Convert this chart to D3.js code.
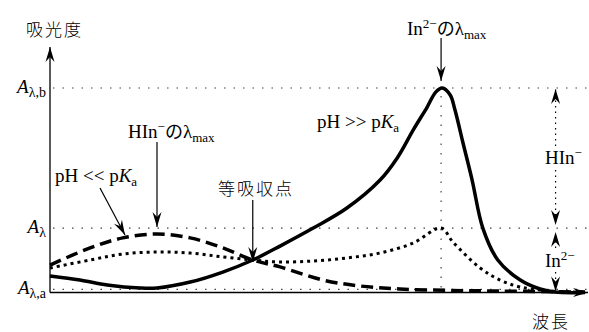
<!DOCTYPE html>
<html>
<head>
<meta charset="utf-8">
<script src="https://cdn.jsdelivr.net/npm/d3@7"></script>
<style>
  body { margin: 0; background: #fff; }
  svg { display: block; }
</style>
</head>
<body>
<svg id="chart" width="589" height="332"></svg>
<script>
// Wavelength in arbitrary units (0–100), absorbance normalised so that A_λ,b = 1.

// pH >> pKa : In2- form
const basicWavelength = [0, 5.6, 10.7, 16.8, 20.0, 26.2, 32.3, 37.9, 43.0, 49.2, 55.5, 61.7, 64.9, 67.9, 70.5, 72.1, 73.3, 74.8, 75.7, 77.2, 78.9, 80.9, 83.7, 87.9, 91.6, 94.4, 100];
const basicAbsorbance = [0.081, 0.061, 0.037, 0.022, 0.022, 0.051, 0.100, 0.159, 0.227, 0.315, 0.413, 0.550, 0.658, 0.795, 0.907, 0.980, 1.0, 0.966, 0.892, 0.731, 0.550, 0.315, 0.159, 0.061, 0.017, 0.002, 0.0];

// pH << pKa : HIn- form
const acidWavelength = [0, 7.5, 13.6, 20.0, 26.2, 32.3, 37.9, 43.0, 51.0, 57.9, 65.4, 74.8, 84.1, 100];
const acidAbsorbance = [0.134, 0.218, 0.267, 0.286, 0.267, 0.218, 0.159, 0.125, 0.061, 0.032, 0.017, 0.010, 0.007, 0.002];

// intermediate pH : mixture of both forms
const mixWavelength = [0, 7.5, 13.6, 20.0, 26.2, 32.3, 37.9, 43.0, 49.2, 55.5, 61.7, 67.9, 73.1, 75.3, 80.4, 84.1, 87.9, 93.5, 100];
const mixAbsorbance = [0.120, 0.159, 0.188, 0.198, 0.193, 0.174, 0.159, 0.149, 0.154, 0.169, 0.193, 0.242, 0.315, 0.247, 0.120, 0.061, 0.027, 0.007, 0.002];

// reference absorbance levels on the vertical axis
const levelSubscripts = ["λ,a", "λ", "λ,b"];
const levelValues = [0.015, 0.315, 1.0];

// marked wavelengths
const inLambdaMax = 73.1;
const hinLambdaMax = 20.0;
const isosbestic = [37.9, 0.159];
const rangeWavelength = 94.5;

const SERIF = "'Liberation Serif', 'Times New Roman', serif";
const JP = "'Noto Sans CJK JP', 'Noto Sans CJK SC', sans-serif";

const svg = d3.select("#chart");
const x = d3.scaleLinear().domain([0, 100]).range([50, 585]);
const y = d3.scaleLinear().domain([0, 1]).range([292.5, 88]);

function serifText(px, py, size) {
  return svg.append("text")
    .attr("x", px).attr("y", py)
    .style("font-family", SERIF)
    .style("font-size", size + "px")
    .attr("fill", "#000");
}
function jpText(px, py, size, str) {
  return svg.append("text")
    .attr("x", px).attr("y", py)
    .style("font-family", JP)
    .style("font-size", size + "px")
    .style("font-weight", 300)
    .attr("letter-spacing", 2)
    .attr("fill", "#000")
    .text(str);
}

// arrowhead (stealth style)
svg.append("defs").append("marker")
  .attr("id", "head")
  .attr("viewBox", "-16 -6 17 12")
  .attr("refX", 0).attr("refY", 0)
  .attr("markerWidth", 17).attr("markerHeight", 12)
  .attr("markerUnits", "userSpaceOnUse")
  .attr("orient", "auto")
  .append("path")
  .attr("d", "M0,0 L-15,-4.5 L-10,0 L-15,4.5 Z")
  .attr("fill", "#000");

// dotted guide lines for the absorbance levels
svg.append("g").selectAll("line").data(levelValues).join("line")
  .attr("x1", x(0) + 3).attr("x2", 588)
  .attr("y1", d => y(d)).attr("y2", d => y(d))
  .attr("stroke", "#444").attr("stroke-width", 1.2)
  .attr("stroke-dasharray", "1.5,8");

// vertical guide at the In2- maximum
svg.append("line")
  .attr("x1", x(inLambdaMax)).attr("x2", x(inLambdaMax))
  .attr("y1", y(1) + 8).attr("y2", y(0))
  .attr("stroke", "#444").attr("stroke-width", 1.2)
  .attr("stroke-dasharray", "1.5,8");

// axes
svg.append("line")
  .attr("x1", x(0)).attr("y1", y(0)).attr("x2", x(0)).attr("y2", 47)
  .attr("stroke", "#000").attr("stroke-width", 1.3)
  .attr("marker-end", "url(#head)");
svg.append("line")
  .attr("x1", x(0)).attr("y1", y(0)).attr("x2", 588).attr("y2", y(0))
  .attr("stroke", "#000").attr("stroke-width", 1.3)
  .attr("marker-end", "url(#head)");

// spectra
const line = d3.line().curve(d3.curveCatmullRom.alpha(0.5))
  .x(d => x(d[0])).y(d => y(d[1]));

svg.append("path")
  .datum(d3.zip(acidWavelength, acidAbsorbance))
  .attr("d", line).attr("fill", "none")
  .attr("stroke", "#000").attr("stroke-width", 3.5)
  .attr("stroke-dasharray", "12,6");
svg.append("path")
  .datum(d3.zip(mixWavelength, mixAbsorbance))
  .attr("d", line).attr("fill", "none")
  .attr("stroke", "#000").attr("stroke-width", 3)
  .attr("stroke-dasharray", "3,4");
svg.append("path")
  .datum(d3.zip(basicWavelength, basicAbsorbance))
  .attr("d", line).attr("fill", "none")
  .attr("stroke", "#000").attr("stroke-width", 3.5);

// level labels A_λ,a / A_λ / A_λ,b
levelValues.forEach((v, i) => {
  const t = serifText(46, y(v) + 5, 19).attr("text-anchor", "end");
  t.append("tspan").style("font-style", "italic").text("A");
  t.append("tspan").style("font-size", "14px").attr("dy", 4).text(levelSubscripts[i]);
});

// axis titles
jpText(26, 36, 17, "吸光度");
jpText(532, 328, 17, "波長");

// plain and dotted arrows
function arrow(x1, y1, x2, y2) {
  svg.append("line")
    .attr("x1", x1).attr("y1", y1).attr("x2", x2).attr("y2", y2)
    .attr("stroke", "#000").attr("stroke-width", 1.2)
    .attr("marker-end", "url(#head)");
}
function dottedArrow(x1, y1, x2, y2) {
  svg.append("line")
    .attr("x1", x1).attr("y1", y1).attr("x2", x2).attr("y2", y2)
    .attr("stroke", "#000").attr("stroke-width", 1.2)
    .attr("stroke-dasharray", "1.5,4")
    .attr("marker-end", "url(#head)");
}

// species label with λmax subscript
function lambdaMaxLabel(px, py, base, sup) {
  const t = serifText(px, py, 19);
  t.append("tspan").text(base);
  t.append("tspan").style("font-size", "13px").attr("dy", -7).text(sup);
  t.append("tspan").style("font-family", JP).style("font-size", "18px").attr("dy", 7).text("の");
  t.append("tspan").text("λ");
  t.append("tspan").style("font-size", "13px").attr("dy", 4).text("max");
}

// In2- λmax
lambdaMaxLabel(407, 35, "In", "2−");
arrow(x(inLambdaMax), 38, x(inLambdaMax), 81);

// HIn- λmax
lambdaMaxLabel(128, 138, "HIn", "−");
arrow(x(hinLambdaMax), 142, x(hinLambdaMax), 227);

// pH labels
function phLabel(px, py, rel) {
  const t = serifText(px, py, 19);
  t.append("tspan").text("pH " + rel + " p");
  t.append("tspan").style("font-style", "italic").text("K");
  t.append("tspan").style("font-size", "13px").attr("dy", 4).text("a");
}
phLabel(55, 182, "<<");
arrow(100, 188, 125, 235);
phLabel(317, 128, ">>");

// isosbestic point
jpText(218, 195, 17, "等吸収点");
arrow(x(isosbestic[0]), 200, x(isosbestic[0]), y(isosbestic[1]) + 2);

// range markers between the levels
{
  const xr = x(rangeWavelength);
  dottedArrow(xr, 146, xr, y(levelValues[2]) + 1);
  dottedArrow(xr, 170, xr, y(levelValues[1]) - 3);
  dottedArrow(xr, 248, xr, y(levelValues[1]) + 4);
  dottedArrow(xr, 272, xr, y(0) - 1);

  const t1 = serifText(545, 164, 19);
  t1.append("tspan").text("HIn");
  t1.append("tspan").style("font-size", "13px").attr("dy", -7).text("−");

  const t2 = serifText(545, 267, 19);
  t2.append("tspan").text("In");
  t2.append("tspan").style("font-size", "13px").attr("dy", -7).text("2−");
}
</script>
</body>
</html>
